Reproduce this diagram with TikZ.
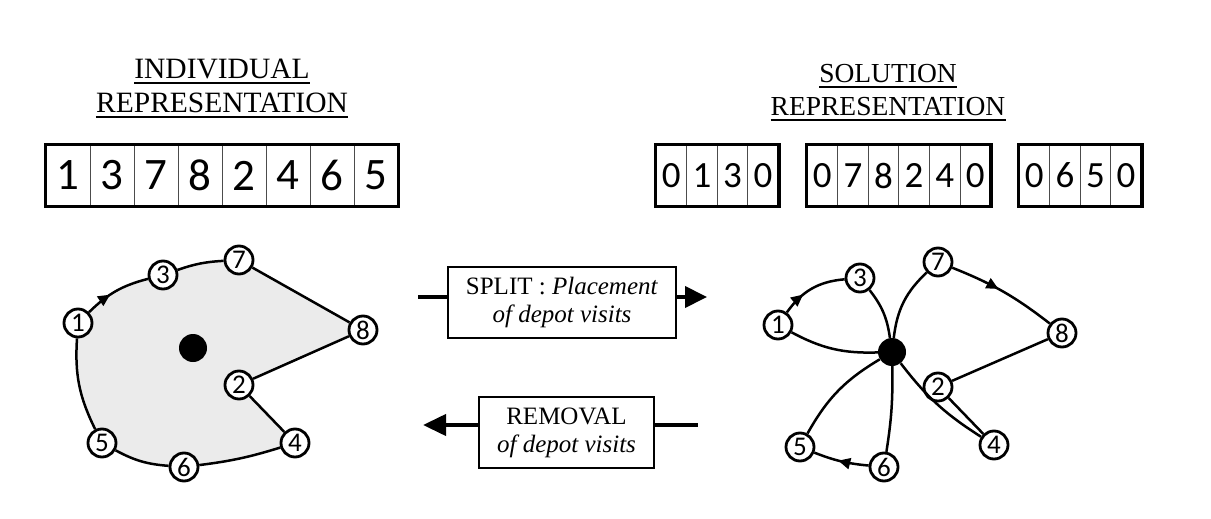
\documentclass[tikz,border=0pt]{standalone}
\usepackage{fontspec}
\setmainfont{Liberation Serif}
\newfontfamily\digitfont{Carlito}
\usetikzlibrary{arrows.meta,decorations.markings,backgrounds}
\begin{document}
\begin{tikzpicture}[x=1pt,y=-1pt,
  titleL/.style={anchor=base,inner sep=0pt,font=\fontsize{29.5}{30}\selectfont},
  titleR/.style={anchor=base,inner sep=0pt,font=\fontsize{27.5}{28}\selectfont},
  uline/.style={line width=2pt},
  cellL/.style={draw=black!70,line width=1pt,minimum width=44pt,minimum height=61pt,inner sep=0pt,font=\digitfont\fontsize{45}{45}\selectfont},
  cellR/.style={draw=black!70,line width=1pt,minimum width=30.6pt,minimum height=61pt,inner sep=0pt,font=\digitfont\fontsize{37}{37}\selectfont},
  outerbox/.style={draw=black,line width=3.4pt},
  vtx/.style={circle,draw=black,line width=2.8pt,fill=white,minimum size=28pt,inner sep=0pt,font=\digitfont\fontsize{27}{27}\selectfont},
  depot/.style={circle,fill=black,minimum size=28pt,inner sep=0pt},
  edge/.style={line width=2.5pt},
  midarrow/.style={postaction={decorate},decoration={markings,mark=at position #1 with {\arrow{Triangle[length=12pt,width=11pt]}}}},
  opbox/.style={draw=black,line width=2.6pt,fill=white,inner sep=0pt,align=center,font=\fontsize{25}{28}\selectfont},
  thickline/.style={line width=4pt}
]
\useasboundingbox (0,0) rectangle (1211,519);

% titles
\node[titleL] (tl1) at (222,78) {INDIVIDUAL};
\node[titleL] (tl2) at (222,112) {REPRESENTATION};
\node[titleR] (tr1) at (888,82) {SOLUTION};
\node[titleR] (tr2) at (888,115) {REPRESENTATION};
\foreach \t in {tl1,tl2,tr1,tr2}
  \draw[uline] ([yshift=-5pt]\t.base west) -- ([yshift=-5pt]\t.base east);

% individual array
\foreach \d [count=\i] in {1,3,7,8,2,4,6,5}
  \node[cellL] (a\i) at ({46+44*(\i-0.5)},175.5) {\d};
\draw[outerbox] (a1.north west) rectangle (a8.south east);

% solution arrays
\foreach \d [count=\i] in {0,1,3,0}
  \node[cellR] (b\i) at ({656+30.6*(\i-0.5)},175.5) {\d};
\draw[outerbox] (b1.north west) rectangle (b4.south east);
\foreach \d [count=\i] in {0,7,8,2,4,0}
  \node[cellR] (c\i) at ({807+30.6*(\i-0.5)},175.5) {\d};
\draw[outerbox] (c1.north west) rectangle (c6.south east);
\foreach \d [count=\i] in {0,6,5,0}
  \node[cellR] (e\i) at ({1019+30.6*(\i-0.5)},175.5) {\d};
\draw[outerbox] (e1.north west) rectangle (e4.south east);

% left graph
\node[vtx] (l1) at (78,323) {1};
\node[vtx] (l3) at (163,275) {3};
\node[vtx] (l7) at (239,260) {7};
\node[vtx] (l8) at (363,330) {8};
\node[vtx] (l2) at (239,385) {2};
\node[vtx] (l4) at (295,443) {4};
\node[vtx] (l6) at (184,467) {6};
\node[vtx] (l5) at (102,443) {5};
\begin{scope}[on background layer]
\fill[black!8] (l1.center) to[bend left=15] (l3.center) to[bend left=8] (l7.center)
  -- (l8.center) -- (l2.center) -- (l4.center) to[bend left=5] (l6.center)
  to[bend left=12] (l5.center) to[bend left=15] (l1.center) -- cycle;
\end{scope}
\node[depot] (ld) at (193,348) {};
\draw[edge,midarrow=0.4] (l1) to[bend left=15] (l3);
\draw[edge] (l3) to[bend left=8] (l7);
\draw[edge] (l7) -- (l8);
\draw[edge] (l8) -- (l2);
\draw[edge] (l2) -- (l4);
\draw[edge] (l4) to[bend left=5] (l6);
\draw[edge] (l6) to[bend left=12] (l5);
\draw[edge] (l5) to[bend left=15] (l1);

% operation boxes
\node[opbox,minimum width=228pt,minimum height=71pt] (split) at (562,302.5)
  {SPLIT : \textit{Placement}\\\textit{of depot visits}};
\coordinate (sl) at (418,297);
\coordinate (sr) at (707,297);
\draw[thickline] (sl) -- (sl -| split.west);
\draw[thickline,-{Triangle[length=22pt,width=21pt]}] (sr -| split.east) -- (sr);

\node[opbox,minimum width=175pt,minimum height=71pt] (rem) at (566.5,432.5)
  {REMOVAL\\\textit{of depot visits}};
\coordinate (rl) at (423,425);
\coordinate (rr) at (698,425);
\draw[thickline,-{Triangle[length=23pt,width=21pt]}] (rl -| rem.west) -- (rl);
\draw[thickline] (rr -| rem.east) -- (rr);

% right graph
\node[vtx] (r1) at (778,325) {1};
\node[vtx] (r3) at (860,278) {3};
\node[vtx] (r7) at (938,262) {7};
\node[vtx] (r8) at (1062,333) {8};
\node[vtx] (r2) at (938,387) {2};
\node[vtx] (r4) at (994,445) {4};
\node[vtx] (r6) at (884,467) {6};
\node[vtx] (r5) at (800,447) {5};
\node[depot] (rd) at (892,352) {};
\draw[edge] (rd) to[bend left=15] (r1);
\draw[edge,midarrow=0.35] (r1) to[bend left=25] (r3);
\draw[edge] (r3) to[bend left=15] (rd);
\draw[edge] (rd) to[bend left=20] (r7);
\draw[edge,midarrow=0.45] (r7) to[bend left=8] (r8);
\draw[edge] (r8) -- (r2);
\draw[edge] (r2) -- (r4);
\draw[edge] (r4) to[bend left=10] (rd);
\draw[edge] (rd) to[bend left=5] (r6);
\draw[edge,midarrow=0.55] (r6) to[bend left=8] (r5);
\draw[edge] (r5) to[bend left=15] (rd);
\end{tikzpicture}
\end{document}
